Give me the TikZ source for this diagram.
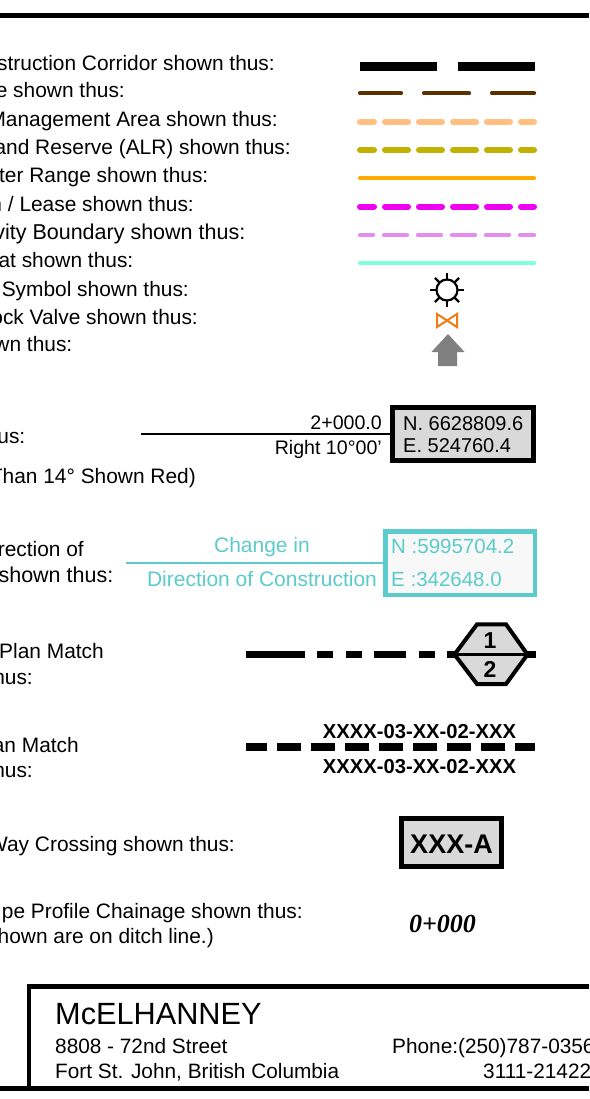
\documentclass[tikz,border=0pt]{standalone}
\usepackage{fontspec}
\setmainfont{Liberation Sans}
\definecolor{teal1}{HTML}{5BCBCB}
\definecolor{boxgray}{HTML}{D9D9D9}
\definecolor{lbrown}{RGB}{92,49,0}
\definecolor{lpeach}{RGB}{255,191,128}
\definecolor{lolive}{RGB}{194,178,0}
\definecolor{lorange}{RGB}{255,170,0}
\definecolor{lmagenta}{RGB}{240,0,240}
\definecolor{lpink}{RGB}{229,140,238}
\definecolor{lcyan}{RGB}{127,255,222}
\definecolor{lvalve}{RGB}{238,125,20}
\definecolor{larrow}{RGB}{128,128,128}
\tikzset{
 x=1pt,y=-1pt,
 lbl/.style={anchor=base east,inner sep=0pt,font=\fontsize{20.9}{20.9}\selectfont},
 roundline/.style={line width=#1,line cap=round},
 wide/.style={dash pattern=on 23pt off 11pt,dash phase=9pt},
 small/.style={inner sep=0pt,font=\fontsize{#1}{#1}\selectfont},
 hd/.style={inner sep=0pt,font=\fontsize{#1}{#1}\bfseries\selectfont},
 framebox/.style={inner sep=0pt,outer sep=0pt,anchor=north west},
}
\begin{document}
\begin{tikzpicture}
\useasboundingbox (0,0) rectangle (589,1099);
\fill[white] (0,0) rectangle (589,1099);
\draw[line width=5pt] (0,15.5) -- (589,15.5);
% left labels
\node[lbl] (t1) at (275,71) {struction Corridor shown thus:};
\node[lbl] (t2) at (125,97.6) {e shown thus:};
\node[lbl] (t3) at (278,126.3) {Management Area shown thus:};
\node[lbl] (t4) at (291,154.6) {and Reserve (ALR) shown thus:};
\node[lbl] (t5) at (208.5,183) {ter Range shown thus:};
\node[lbl] (t6) at (194,211.5) {n / Lease shown thus:};
\node[lbl,font=\fontsize{21.5}{21.5}\selectfont] (t7) at (245.5,239.5) {vity Boundary shown thus:};
\node[lbl] (t8) at (133.5,267.5) {at shown thus:};
\node[lbl] (t9) at (189,296) {Symbol shown thus:};
\node[lbl] (t10) at (198,324) {ock Valve shown thus:};
\node[lbl] (t11) at (72.5,351.7) {wn thus:};
\node[lbl] (t12) at (25.5,443) {us:};
\node[lbl] (t13) at (196,483) {Than 14° Shown Red)};
\node[lbl] (t14) at (84,556) {rection of};
\node[lbl,font=\fontsize{21.5}{21.5}\selectfont] (t15) at (113.5,582) {shown thus:};
\node[lbl] (t16) at (104,658) {Plan Match};
\node[lbl] (t17) at (33,684) {hus:};
\node[lbl] (t18) at (79,752) {an Match};
\node[lbl] (t19) at (33,777) {hus:};
\node[lbl] (t20) at (235,851) {Way Crossing shown thus:};
\node[lbl] (t21) at (303,918) {pe Profile Chainage shown thus:};
\node[lbl] (t22) at (214,943) {hown are on ditch line.)};
% legend lines
\coordinate (a1) at (360,66.5); \coordinate (b1) at (536,66.5);
\draw[line width=8.5pt,dash pattern=on 77pt off 21pt] (a1) -- (b1);
\coordinate (a2) at (360,93.3); \coordinate (b2) at (534,93.3);
\draw[roundline=4.2pt,draw=lbrown,dash pattern=on 45pt off 23pt,dash phase=4pt] (a2) -- (b2);
\coordinate (a3) at (360,121.7); \coordinate (b3) at (534,121.7);
\draw[roundline=6pt,draw=lpeach,wide] (a3) -- (b3);
\coordinate (a4) at (360,150); \coordinate (b4) at (534,150);
\draw[roundline=6pt,draw=lolive,wide] (a4) -- (b4);
\coordinate (a5) at (360,178.3); \coordinate (b5) at (534,178.3);
\draw[roundline=4.2pt,draw=lorange] (a5) -- (b5);
\coordinate (a6) at (360,206.7); \coordinate (b6) at (534,206.7);
\draw[roundline=6pt,draw=lmagenta,wide] (a6) -- (b6);
\coordinate (a7) at (360,235); \coordinate (b7) at (534,235);
\draw[roundline=4.4pt,draw=lpink,dash pattern=on 23pt off 11pt,dash phase=10pt] (a7) -- (b7);
\coordinate (a8) at (360,263.3); \coordinate (b8) at (534,263.3);
\draw[roundline=4.2pt,draw=lcyan] (a8) -- (b8);
% symbols
\coordinate (sun) at (447,290);
\draw[line width=2.2pt] (sun) circle (10.5pt);
\foreach \a in {0,45,...,315} \draw[line width=2.2pt] (sun) ++(\a:10.5pt) -- ++(\a:6.5pt);
\draw[line width=2pt,draw=lvalve,line join=miter] (437,314) -- (457,327) -- (457,314) -- (437,327) -- cycle;
\fill[larrow] (448,334) -- (464.5,352) -- (457,352) -- (457,366) -- (438,366) -- (438,352) -- (431.5,352) -- cycle;
% station box
\node[framebox,draw,line width=5pt,fill=boxgray,minimum width=141pt,minimum height=53pt] (box1) at (392.5,407.5) {};
\coordinate (s1) at (141,434);
\draw[line width=2pt] (s1) -- (box1.west);
\node[small=19.6,anchor=base east] (st) at (382,429.5) {2+000.0};
\node[small=19.6,anchor=base east] (rt) at (382,454) {Right 10°00'};
\node[small=20,anchor=base west] (n1) at (403,430.5) {N. 6628809.6};
\node[small=20,anchor=base west] (e1) at (403,452) {E. 524760.4};
% change in direction
\node[framebox,draw=teal1,line width=4.5pt,fill={rgb,255:red,248;green,248;blue,248},minimum width=149.5pt,minimum height=63.5pt] (box2) at (385.5,531.5) {};
\coordinate (s2) at (126,563.25);
\draw[line width=2pt,teal1] (s2) -- (box2.west);
\node[small=21,teal1,anchor=base] (c1) at (262,552.5) {Change in};
\node[small=21,teal1,anchor=base] (c2) at (262,586) {Direction of Construction};
\node[small=20.5,teal1,anchor=base west] (n2) at (391,553) {N :5995704.2};
\node[small=20.5,teal1,anchor=base west] (e2) at (391,586) {E :342648.0};
% match 1
\coordinate (m1) at (246,654.5); \coordinate (m2) at (535.5,654.5);
\draw[line width=6.7pt,dash pattern=on 59pt off 12pt on 16pt off 13pt on 16pt off 12pt on 32pt off 13pt on 16pt off 12pt on 120pt] (m1) -- (m2);
\coordinate (hl) at (454.5,654.5); \coordinate (hr) at (527.5,654.5);
\filldraw[line width=4pt,fill=boxgray,line join=miter] (hl) -- (477,624.3) -- (506,624.3) -- (hr) -- (506,684) -- (477,684) -- cycle;
\draw[line width=3pt] (hl) -- (hr);
\node[hd=23,anchor=base] (h1) at (490,648) {1};
\node[hd=23,anchor=base] (h2) at (490,677.5) {2};
% match 2
\coordinate (k1) at (246,747); \coordinate (k2) at (535,747);
\draw[line width=8pt,dash pattern=on 24pt off 10pt,dash phase=3pt] (k1) -- (k2);
\node[hd=20.2,anchor=base] (x1) at (419.5,738) {XXXX-03-XX-02-XXX};
\node[hd=20.2,anchor=base] (x2) at (419.5,773) {XXXX-03-XX-02-XXX};
% crossing
\node[framebox,draw,line width=5pt,fill=boxgray,minimum width=100pt,minimum height=48pt] (cr) at (401.5,818.5) {};
\node[hd=27,anchor=base] (crt) at (451.5,853) {XXX-A};
\setmainfont{Liberation Serif}
\node[hd=26,font=\fontsize{26}{26}\bfseries\itshape\selectfont,anchor=base] (ch) at (442.5,932) {0+000};
\setmainfont{Liberation Sans}
% title block
\coordinate (tb1) at (29,1088); \coordinate (tb2) at (29,986.3); \coordinate (tb3) at (589,986.3);
\draw[line width=4.5pt] (tb1) -- (tb2) -- (tb3);
\coordinate (tb4) at (0,1088.5); \coordinate (tb5) at (589,1088.5);
\draw[line width=4.5pt] (tb4) -- (tb5);
\node[small=30.7,anchor=base west] (mc) at (55,1024) {McELHANNEY};
\node[small=20.8,anchor=base west] (ad1) at (55,1053) {8808 - 72nd Street};
\node[small=20.8,anchor=base west] (ad2) at (55,1078) {Fort St. John, British Columbia};
\node[small=20.8,anchor=base west] (ph) at (392,1053) {Phone:(250)787-0356};
\node[small=20.8,anchor=base west] (no) at (483,1078) {3111-21422};
\end{tikzpicture}
\end{document}
